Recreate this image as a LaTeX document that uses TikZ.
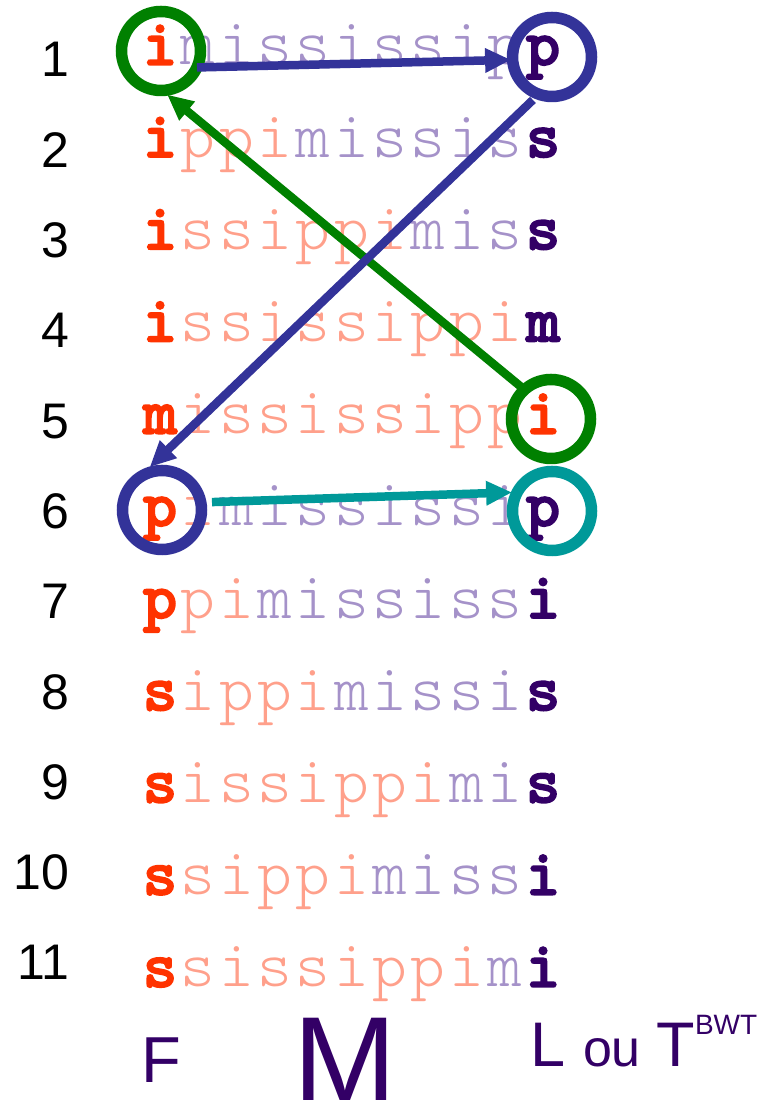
\documentclass[tikz,border=0pt]{standalone}
\usepackage{fontspec}
\setmainfont{Liberation Sans}
\newfontfamily\monofam{lmmonolt10-regular.otf}[BoldFont=lmmonolt10-bold.otf,BoldFeatures={FakeBold=2.2}]
\usetikzlibrary{arrows.meta}

\definecolor{fcol}{HTML}{FF3300}
\definecolor{lcol}{HTML}{330066}
\definecolor{pinkfade}{HTML}{FFA08B}
\definecolor{purpfade}{HTML}{A592C9}
\definecolor{ringblue}{HTML}{333399}
\definecolor{ringgreen}{HTML}{008000}
\definecolor{ringteal}{HTML}{009999}

% set the string held in a macro on a fixed character grid
\newcommand\cells[1]{\expandafter\cellsaux#1\relax}
\def\cellsaux#1{\ifx#1\relax\else\makebox[38.3pt]{#1}\expandafter\cellsaux\fi}

\tikzset{
  glyph/.style={inner sep=0pt, outer sep=0pt, anchor=base west},
  fchar/.style={glyph, text=fcol, font=\monofam\bfseries\fontsize{66}{70}\selectfont},
  lchar/.style={glyph, font=\monofam\bfseries\fontsize{66}{70}\selectfont},
  midchars/.style={glyph, font=\monofam\fontsize{66}{70}\selectfont},
  rownum/.style={inner sep=0pt, outer sep=0pt, anchor=base east, font=\fontsize{50}{56}\selectfont},
  caption/.style={inner sep=0pt, outer sep=0pt, anchor=base west, text=lcol},
  ring/.style={circle, draw, minimum size=79pt, line width=11.5pt, inner sep=0pt, outer sep=0pt},
  link/.style={line width=8.5pt, -{Triangle[length=26pt,width=23pt]}},
}

\begin{document}
\begin{tikzpicture}[x=1pt,y=1pt]
\useasboundingbox (0,0) rectangle (771,1100);

% sorted rotations: first column, wrapped suffix, wrapped prefix, last column
\foreach \k/\f/\pa/\pb/\l/\lc in {
  1/i//mississip/p/lcol,
  2/i/ppi/missis/s/lcol,
  3/i/ssippi/mis/s/lcol,
  4/i/ssissippi//m/lcol,
  5/m/ississipp//i/fcol,
  6/p/i/mississi/p/lcol,
  7/p/pi/mississ/i/lcol,
  8/s/ippi/missi/s/lcol,
  9/s/issippi/mi/s/lcol,
  10/s/sippi/miss/i/lcol,
  11/s/sissippi/m/i/lcol}{
  \pgfmathsetmacro\yb{1100-65-92.2*(\k-1)}
  \pgfmathsetmacro\yn{1100-77-90.3*(\k-1)}
  \node[rownum] (n\k) at (69.5,\yn) {\k};
  \node[midchars] (m\k) at (179.15,\yb) {\textcolor{pinkfade}{\cells{\pa}}\textcolor{purpfade}{\cells{\pb}}};
  \node[fchar] (f\k) at (140.85,\yb) {\cells{\f}};
  \node[lchar, text=\lc] (l\k) at (523.85,\yb) {\cells{\l}};
}

% column captions
\node[caption, font=\fontsize{65}{70}\selectfont] (capF) at (141,17) {F};
\node[caption, font=\fontsize{124}{130}\selectfont] (capM) at (293,-4) {M};
\node[caption, font=\fontsize{63}{70}\selectfont] (capL) at (530.5,33) {L};
\node[caption, font=\fontsize{52}{58}\selectfont] (capOu) at (583,33) {ou};
\node[caption, font=\fontsize{63}{70}\selectfont] (capT) at (656,33) {T};
\node[caption, font=\fontsize{28}{32}\selectfont] (capBWT) at (695,65) {BWT};

% rings
\node[ring, draw=ringgreen] (c1) at (161,1049) {};
\node[ring, draw=ringblue]  (c2) at (552,1043) {};
\node[ring, draw=ringgreen] (c3) at (551,681) {};
\node[ring, draw=ringblue]  (c4) at (162,590) {};
\node[ring, draw=ringteal]  (c5) at (552,589) {};

% LF mapping links
\draw[link, ringblue]  ([shift={(-24.6:39.6)}]c1.center) -- ([shift={(184:41)}]c2.center);
\draw[link, ringgreen] ([shift={(133:44)}]c3.center) -- ([shift={(-82:44)}]c1.center);
\draw[link, ringblue]  ([shift={(-114:47)}]c2.center) -- ([shift={(106:44.6)}]c4.center);
\draw[link, ringteal]  ([shift={(9:50.6)}]c4.center) -- ([shift={(155:44)}]c5.center);
\end{tikzpicture}
\end{document}
